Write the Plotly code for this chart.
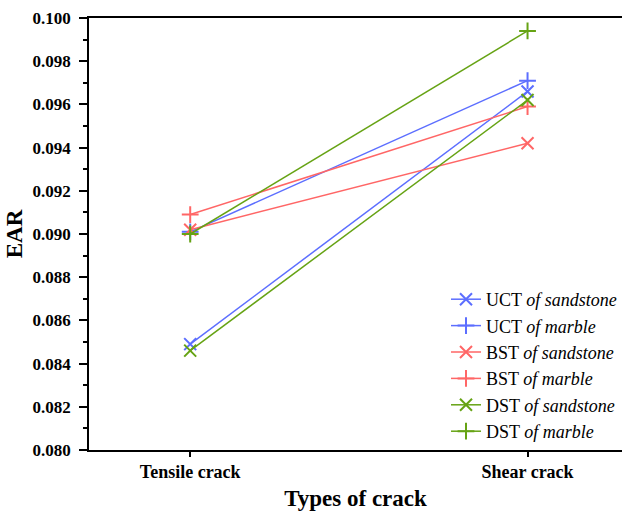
import plotly.graph_objects as go

# Crack types on the x axis
crack_types = ["Tensile crack", "Shear crack"]
x_pos = [0, 1]

# EAR values per test / rock type
uct_sandstone = [0.0849, 0.0966]
uct_marble = [0.0901, 0.0971]
bst_sandstone = [0.0902, 0.0942]
bst_marble = [0.0909, 0.0959]
dst_sandstone = [0.0846, 0.0962]
dst_marble = [0.0900, 0.0994]

BLUE = "rgb(92,110,255)"
RED = "rgb(255,102,102)"
GREEN = "rgb(102,163,20)"

series = [
    ("UCT <i>of sandstone</i>", uct_sandstone, BLUE, "x-thin"),
    ("UCT <i>of marble</i>", uct_marble, BLUE, "cross-thin"),
    ("BST <i>of sandstone</i>", bst_sandstone, RED, "x-thin"),
    ("BST <i>of marble</i>", bst_marble, RED, "cross-thin"),
    ("DST <i>of sandstone</i>", dst_sandstone, GREEN, "x-thin"),
    ("DST <i>of marble</i>", dst_marble, GREEN, "cross-thin"),
]

fig = go.Figure()
for name, vals, color, sym in series:
    fig.add_trace(go.Scatter(
        x=x_pos, y=vals, name=name, mode="lines+markers",
        line=dict(color=color, width=1.5),
        marker=dict(symbol=sym, size=12, color=color,
                    line=dict(color=color, width=2)),
    ))

serif = "Liberation Serif"

fig.update_layout(
    width=622, height=513,
    margin=dict(l=89, r=0, t=18, b=63),
    paper_bgcolor="white", plot_bgcolor="white",
    font=dict(family=serif, color="black"),
    showlegend=True,
    legend=dict(
        x=1.0, xanchor="right", y=0.0, yanchor="bottom",
        bgcolor="rgba(0,0,0,0)", font=dict(family=serif, size=18),
        tracegroupgap=0, itemwidth=30,
    ),
    xaxis=dict(
        range=[-0.3, 1.28], tickvals=x_pos, ticktext=crack_types,
        showgrid=False, zeroline=False,
        showline=True, linecolor="black", linewidth=1.5, mirror=True,
        ticks="outside", ticklen=5, tickwidth=1.5, tickcolor="black",
        tickfont=dict(family=serif, size=18, weight="bold"),
        title=dict(text="<b>Types of crack</b>",
                   font=dict(family=serif, size=23), standoff=9),
    ),
    yaxis=dict(
        range=[0.080, 0.100], dtick=0.002, tickformat=".3f",
        showgrid=False, zeroline=False,
        showline=True, linecolor="black", linewidth=1.5,
        ticks="outside", ticklen=8, tickwidth=1.5, tickcolor="black",
        ticklabelstandoff=5,
        tickfont=dict(family=serif, size=17, weight="bold"),
        minor=dict(dtick=0.001, ticks="outside", ticklen=4, tickwidth=1.5,
                   tickcolor="black", showgrid=False),
        title=dict(text="<b>EAR</b>",
                   font=dict(family=serif, size=23), standoff=4),
    ),
)

fig.write_html("out.html")
